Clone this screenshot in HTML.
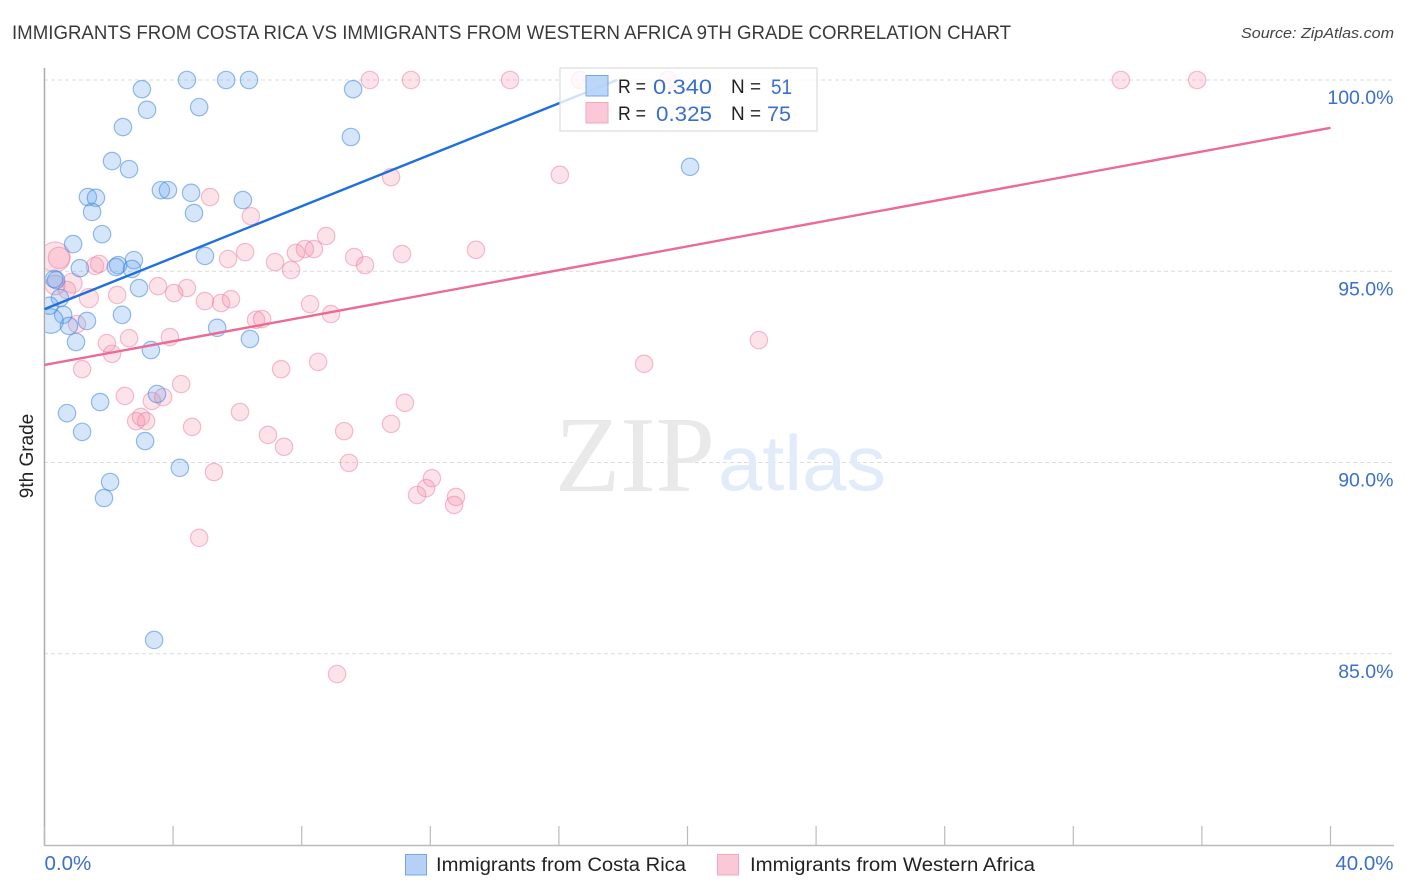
<!DOCTYPE html>
<html lang="en">
<head>
<meta charset="utf-8">
<title>Immigrants from Costa Rica vs Immigrants from Western Africa 9th Grade Correlation Chart</title>
<style>
html,body{margin:0;padding:0;background:#fff;width:1406px;height:892px;overflow:hidden}
svg{display:block}
text{font-family:"Liberation Sans",sans-serif}
</style>
</head>
<body>
<svg id="chart" xmlns="http://www.w3.org/2000/svg" width="1406" height="892" viewBox="0 0 1406 892">
  <defs><clipPath id="plot-clip"><rect x="45.5" y="60" width="1350" height="786"/></clipPath></defs>
  <text x="12" y="39" font-size="19" fill="#3a3a3a" textLength="999" lengthAdjust="spacingAndGlyphs">IMMIGRANTS FROM COSTA RICA VS IMMIGRANTS FROM WESTERN AFRICA 9TH GRADE CORRELATION CHART</text>
  <text x="1241" y="38" font-size="15" font-style="italic" fill="#444" textLength="153" lengthAdjust="spacingAndGlyphs">Source: ZipAtlas.com</text>
  <g id="grid"></g>
  <g>
    <text x="555" y="491" font-size="108" fill="#e9e9e9" style="font-family:'Liberation Serif',serif" textLength="160" lengthAdjust="spacingAndGlyphs">ZIP</text>
    <text x="718" y="490" font-size="78" fill="#e2ebf9" textLength="168" lengthAdjust="spacingAndGlyphs">atlas</text>
  </g>
  <g id="axes">
    <line x1="44.5" y1="68" x2="44.5" y2="846" stroke="#aaa" stroke-width="1.5"/>
    <line x1="44" y1="845.5" x2="1394" y2="845.5" stroke="#bbb" stroke-width="1.5"/>
  </g>
  <g id="points-pink" clip-path="url(#plot-clip)"></g>
  <g id="points-blue" clip-path="url(#plot-clip)"></g>
  <g id="trend-lines"></g>
  <g id="y-labels"></g>
  <g id="x-labels"></g>
  <text transform="translate(33,456) rotate(-90)" text-anchor="middle" font-size="19" fill="#222">9th Grade</text>

  <g>
    <rect x="560" y="68" width="257" height="63" fill="#fff" fill-opacity="0.8" stroke="#ddd" stroke-width="1.2"/>
    <rect x="586" y="75.5" width="22" height="20.5" fill="#b5d1f8" fill-opacity="0.9" stroke="#78a6e4" stroke-width="1"/>
    <rect x="586" y="102.5" width="22" height="20.5" fill="#fbc8d8" stroke="#f2a7bf" stroke-width="1"/>
    <text x="618" y="93" font-size="19.5" fill="#222" textLength="28" lengthAdjust="spacingAndGlyphs">R =</text>
    <text x="653" y="94" font-size="21" fill="#3a70cc" textLength="59" lengthAdjust="spacingAndGlyphs">0.340</text>
    <text x="731" y="93" font-size="19.5" fill="#222" textLength="30" lengthAdjust="spacingAndGlyphs">N =</text>
    <text x="771" y="94" font-size="21" fill="#3a70cc" textLength="21" lengthAdjust="spacingAndGlyphs">51</text>
    <text x="618" y="120" font-size="19.5" fill="#222" textLength="28" lengthAdjust="spacingAndGlyphs">R =</text>
    <text x="656" y="121" font-size="21" fill="#3a70cc" textLength="56" lengthAdjust="spacingAndGlyphs">0.325</text>
    <text x="731" y="120" font-size="19.5" fill="#222" textLength="30" lengthAdjust="spacingAndGlyphs">N =</text>
    <text x="767" y="121" font-size="21" fill="#3a70cc" textLength="24" lengthAdjust="spacingAndGlyphs">75</text>
  </g>

  <g>
    <rect x="405.5" y="854.5" width="21" height="20.5" fill="#b5d1f8" stroke="#78a6e4" stroke-width="1"/>
    <text x="436" y="871" font-size="19" fill="#222" textLength="250" lengthAdjust="spacingAndGlyphs">Immigrants from Costa Rica</text>
    <rect x="717.5" y="854.5" width="21" height="20.5" fill="#fbc8d8" stroke="#f2a7bf" stroke-width="1"/>
    <text x="750" y="871" font-size="19" fill="#222" textLength="285" lengthAdjust="spacingAndGlyphs">Immigrants from Western Africa</text>
  </g>
</svg>
<script>
const yTickValues = [100, 95, 90, 85];
const yTickLabels = ["100.0%", "95.0%", "90.0%", "85.0%"];
const xTickValues = [0, 4, 8, 12, 16, 20, 24, 28, 32, 36, 40];
const xEndValues = [0, 40];
const xEndLabels = ["0.0%", "40.0%"];

const blueX = [4.43,5.65,6.36,3.03,9.60,3.19,4.81,2.44,9.53,2.10,2.63,20.08,3.62,3.84,4.56,1.35,1.60,6.17,1.48,4.65,1.79,0.89,4.99,2.78,2.29,2.22,2.72,1.10,0.36,2.94,0.48,2.41,0.58,1.32,0.76,5.37,6.39,0.98,3.31,3.50,1.73,0.70,1.17,3.13,4.21,2.04,1.85,3.41,0.20,0.16,0.30];
const blueY = [100,100,100,99.76,99.76,99.22,99.29,98.77,98.51,97.88,97.67,97.73,97.12,97.12,97.05,96.94,96.92,96.86,96.55,96.52,95.97,95.71,95.40,95.29,95.16,95.11,95.06,95.08,94.77,94.56,94.30,93.86,93.86,93.70,93.57,93.52,93.23,93.15,92.94,91.79,91.58,91.29,90.80,90.56,89.86,89.49,89.07,85.36,93.70,94.10,94.80];
const blueWeight = [1,1,1,1,1,1,1,1,1,1,1,1,1,1,1,1,1,1,1,1,1,1,1,1,1,1,1,1,1,1,1,1,1,1,1,1,1,1,1,1,1,1,1,1,1,1,1,1,2,1,1];

const pinkX = [10.12,11.40,14.48,16.66,19.39,33.48,35.85,10.78,16.03,5.15,6.42,8.76,13.42,11.12,0.33,0.45,6.24,5.71,7.17,7.82,8.10,8.38,9.63,9.97,7.67,1.57,1.70,0.86,0.70,0.33,2.26,1.38,3.53,4.03,4.43,4.99,5.49,5.80,8.26,8.91,6.58,6.77,1.01,1.94,2.63,2.10,3.90,1.17,8.51,7.36,18.65,22.22,4.25,2.50,3.34,3.69,2.85,3.00,3.16,6.08,11.21,4.59,6.95,7.45,9.32,10.78,9.47,5.27,12.05,11.87,11.59,12.80,12.74,4.81,9.10];
const pinkY = [100,100,100,100,100,100,100,97.46,97.52,96.94,96.44,95.92,95.56,95.45,95.37,95.35,95.50,95.32,95.24,95.48,95.58,95.58,95.37,95.16,95.03,95.14,95.19,94.69,94.51,94.64,94.38,94.30,94.61,94.43,94.56,94.22,94.17,94.27,94.14,93.88,93.73,93.75,93.62,93.12,93.25,92.84,93.28,92.44,92.63,92.44,92.58,93.20,92.05,91.74,91.61,91.71,91.08,91.19,91.08,91.32,91.56,90.93,90.72,90.41,90.82,91.01,89.99,89.75,89.59,89.33,89.15,89.10,88.89,88.03,84.47];
const pinkWeight = [1,1,1,1,1,1,1,1,1,1,1,1,1,1,3,1.5,1,1,1,1,1,1,1,1,1,1,1,1.3,1,1.3,1,1.2,1,1,1,1,1,1,1,1,1,1,1,1,1,1,1,1,1,1,1,1,1,1,1,1,1,1,1,1,1,1,1,1,1,1,1,1,1,1,1,1,1,1,1];

const blueTrendX = [0, 17.81];
const blueTrendY = [94.01, 100];
const pinkTrendX = [0, 40];
const pinkTrendY = [92.55, 98.75];

const NS = 'http://www.w3.org/2000/svg';
const xScale = v => 44.5 + v * 32.15;
const yScale = v => 80 + (100 - v) * 38.25;
const radius = w => 8.7 * Math.sqrt(w);

const grid = document.getElementById('grid');
const axes = document.getElementById('axes');
const yLabels = document.getElementById('y-labels');
const xLabels = document.getElementById('x-labels');
const trendLines = document.getElementById('trend-lines');

yTickValues.forEach(function (v, i) {
  const g = document.createElementNS(NS, 'line');
  
  
  g.setAttribute('x1', 44);
  g.setAttribute('x2', 1394);
  g.setAttribute('y1', yScale(v));
  g.setAttribute('y2', yScale(v));
  g.setAttribute('stroke', '#dcdcdc');
  g.setAttribute('stroke-width', '1');
  g.setAttribute('stroke-dasharray', '4 3');
  grid.appendChild(g);

  const t = document.createElementNS(NS, 'text');
  
  
  t.setAttribute('x', 1393.5);
  t.setAttribute('y', yScale(v) + 24);
  t.setAttribute('text-anchor', 'end');
  t.setAttribute('font-size', '19.5');
  t.setAttribute('fill', '#3a70cc');
  t.textContent = yTickLabels[i];
  yLabels.appendChild(t);
});

xTickValues.forEach(function (v) {
  const tick = document.createElementNS(NS, 'line');
  
  
  tick.setAttribute('x1', xScale(v));
  tick.setAttribute('x2', xScale(v));
  tick.setAttribute('y1', 826);
  tick.setAttribute('y2', 846);
  tick.setAttribute('stroke', '#bbb');
  tick.setAttribute('stroke-width', '1.2');
  axes.appendChild(tick);
});

xEndValues.forEach(function (v, i) {
  const t = document.createElementNS(NS, 'text');
  
  
  t.setAttribute('x', i === 0 ? xScale(v) : 1393.5);
  t.setAttribute('y', 870);
  t.setAttribute('text-anchor', i === 0 ? 'start' : 'end');
  t.setAttribute('font-size', '20.5');
  t.setAttribute('fill', '#3a70cc');
  t.textContent = xEndLabels[i];
  xLabels.appendChild(t);
});

function drawPoints(groupId, xs, ys, ws, fill, stroke, fillOpacity, strokeOpacity, pointName) {
  const group = document.getElementById(groupId);
  xs.forEach(function (x, i) {
    const c = document.createElementNS(NS, 'circle');
    
    
    c.setAttribute('cx', xScale(x));
    c.setAttribute('cy', yScale(ys[i]));
    c.setAttribute('r', radius(ws[i]));
    c.setAttribute('fill', fill);
    c.setAttribute('fill-opacity', fillOpacity);
    c.setAttribute('stroke', stroke);
    c.setAttribute('stroke-opacity', strokeOpacity);
    c.setAttribute('stroke-width', '1.2');
    group.appendChild(c);
  });
}
drawPoints('points-pink', pinkX, pinkY, pinkWeight, '#f48aa9', '#ec7fa0', '0.25', '0.5', 'western-africa-point');
drawPoints('points-blue', blueX, blueY, blueWeight, '#6aa5ec', '#3f85e0', '0.28', '0.55', 'costa-rica-point');

function drawTrend(xs, ys, color, lineName) {
  const l = document.createElementNS(NS, 'line');
  
  
  l.setAttribute('x1', xScale(xs[0]));
  l.setAttribute('y1', yScale(ys[0]));
  l.setAttribute('x2', xScale(xs[1]));
  l.setAttribute('y2', yScale(ys[1]));
  l.setAttribute('stroke', color);
  l.setAttribute('stroke-width', '2.4');
  trendLines.appendChild(l);
}
drawTrend(blueTrendX, blueTrendY, '#1f70dc', 'costa-rica-trend-line');
drawTrend(pinkTrendX, pinkTrendY, '#ec6a96', 'western-africa-trend-line');
</script>
</body>
</html>
